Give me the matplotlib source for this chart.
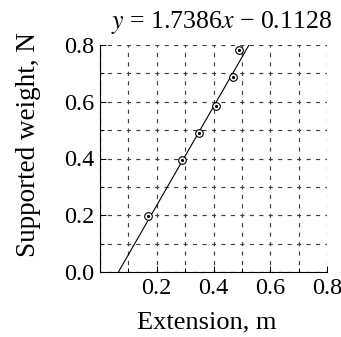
import matplotlib
matplotlib.use("Agg")
import matplotlib.pyplot as plt
import numpy as np
from matplotlib.ticker import MultipleLocator

plt.rcParams['font.family'] = ['Liberation Serif', 'DejaVu Serif']
plt.rcParams['mathtext.fontset'] = 'stix'
plt.rcParams['lines.scale_dashes'] = False

extension = [0.169, 0.289, 0.350, 0.410, 0.470, 0.489]
weight = [0.198, 0.393, 0.490, 0.586, 0.688, 0.781]
slope = 1.7386
intercept = -0.1128
x_ticks = [0.2, 0.4, 0.6, 0.8]
y_ticks = [0.0, 0.2, 0.4, 0.6, 0.8]

W, H = 341, 337
fig = plt.figure(figsize=(W / 100, H / 100), dpi=100)
side = 227
ax = fig.add_axes([100 / W, (H - 272) / H, side / W, side / H])

ax.set_xlim(0, 0.8)
ax.set_ylim(0, 0.8)
ax.set_xticks(x_ticks)
ax.set_yticks(y_ticks)
ax.xaxis.set_minor_locator(MultipleLocator(0.1))
ax.yaxis.set_minor_locator(MultipleLocator(0.1))
period = side / 24 * 0.72
dash = 3.0
ax.grid(which='both', color='0.25', linestyle=(dash / 2, (dash, period - dash)), linewidth=0.85)
ax.tick_params(which='both', direction='in', labelsize=17.5, length=4, width=0.7, pad=4)
ax.tick_params(which='minor', length=3)
for s in ['top', 'right']:
    ax.spines[s].set_visible(False)
for s in ['left', 'bottom']:
    ax.spines[s].set_linewidth(0.8)
ax.set_axisbelow(True)

xl = np.array([-intercept / slope, (0.8 - intercept) / slope])
ax.plot(xl, slope * xl + intercept, color='black', lw=0.8)
ax.plot(extension, weight, linestyle='none', marker='o', mfc='white', mec='black',
        ms=5.5, mew=0.8)
ax.plot(extension, weight, linestyle='none', marker='.', color='black', ms=2.5)

ax.set_xlabel('Extension, m', fontsize=19)
ax.xaxis.set_label_coords((206.5 - 100) / side, -(311 - 272) / side)
ax.set_ylabel('Supported weight, N', fontsize=19.5)
ax.yaxis.set_label_coords(-(100 - 41) / side, (272 - 145) / side)
ax.text(1.02, 1.04, r'$y$ = 1.7386$x$ − 0.1128', transform=ax.transAxes,
        ha='right', va='bottom', fontsize=18.5)

fig.savefig('out.png', dpi=100)
